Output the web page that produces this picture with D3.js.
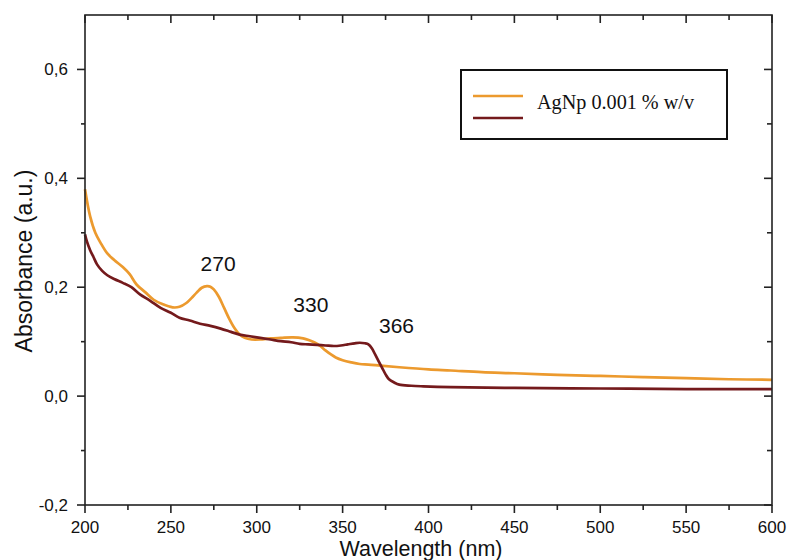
<!DOCTYPE html>
<html><head><meta charset="utf-8">
<script src="https://cdn.jsdelivr.net/npm/d3@7"></script>
<style>body{margin:0;background:#fff}svg{display:block}</style>
</head><body>
<script>
const orangeWl = [200,203,206,209,213,217,222,226,230,235,240,245,251,255,259,262,265,268,271,273,275,278,281,284,287,290,293,297,302,308,314,321,327,331,334,337,340,343,346,350,355,360,365,372,383,400,413,431,450,475,500,525,550,575,600];
const orangeAbs = [0.380,0.330,0.300,0.282,0.262,0.250,0.237,0.224,0.205,0.191,0.177,0.169,0.163,0.164,0.171,0.180,0.190,0.199,0.202,0.201,0.196,0.182,0.162,0.142,0.125,0.113,0.107,0.104,0.104,0.106,0.107,0.108,0.106,0.102,0.098,0.092,0.084,0.077,0.071,0.066,0.062,0.059,0.058,0.056,0.053,0.049,0.047,0.044,0.042,0.039,0.037,0.035,0.033,0.031,0.030];
const redWl = [200,201,203,205,207,210,213,217,222,227,232,238,244,250,255,261,267,273,279,285,290,296,302,308,314,320,325,330,335,340,345,349,353,357,360,363,365,367,369,371,373,375,377,380,383,390,397,413,450,500,550,600];
const redAbs = [0.297,0.285,0.268,0.255,0.242,0.230,0.222,0.215,0.208,0.200,0.187,0.175,0.162,0.153,0.144,0.139,0.133,0.129,0.124,0.118,0.113,0.110,0.107,0.104,0.101,0.099,0.096,0.095,0.094,0.093,0.092,0.093,0.095,0.097,0.098,0.097,0.095,0.088,0.076,0.064,0.052,0.040,0.031,0.025,0.021,0.019,0.018,0.0165,0.015,0.014,0.013,0.013];
const xTicks = [200,250,300,350,400,450,500,550,600];
const yTicks = [-0.2,0,0.2,0.4,0.6];
const yTickLabels = ["-0,2","0,0","0,2","0,4","0,6"];
const legendLabel = "AgNp 0.001 % w/v";
const peakLabels = [{t:"270",x:277.5,y:0.229},{t:"330",x:331.5,y:0.154},{t:"366",x:381.4,y:0.116}];

const W=789,H=560, L=85,R=772,T=15,B=505;
const svg=d3.select("body").append("svg").attr("width",W).attr("height",H);
const x=d3.scaleLinear().domain([200,600]).range([L,R]);
const y=d3.scaleLinear().domain([-0.2,0.7]).range([B,T]);
const font="'Liberation Sans', Arial, sans-serif";

const g=svg.append("g");
const line=(wl,ab)=>d3.line().x((d,i)=>x(wl[i])).y((d,i)=>y(ab[i])).curve(d3.curveCatmullRom.alpha(0.5))(ab);
g.append("path").attr("d",line(orangeWl,orangeAbs)).attr("fill","none").attr("stroke","#EC9A2E").attr("stroke-width",2.7);
g.append("path").attr("d",line(redWl,redAbs)).attr("fill","none").attr("stroke","#741A1C").attr("stroke-width",2.7);

// axes
const minorX=d3.range(225,600,50), minorY=[-0.1,0.1,0.3,0.5];
const ax=svg.append("g").attr("stroke","#222").attr("stroke-width",1.6);
ax.append("rect").attr("x",L).attr("y",T).attr("width",R-L).attr("height",B-T).attr("fill","none");
xTicks.forEach(v=>{ax.append("line").attr("x1",x(v)).attr("x2",x(v)).attr("y1",B).attr("y2",B+8);
  ax.append("line").attr("x1",x(v)).attr("x2",x(v)).attr("y1",T).attr("y2",T+8);});
minorX.forEach(v=>{ax.append("line").attr("x1",x(v)).attr("x2",x(v)).attr("y1",B).attr("y2",B+5);
  ax.append("line").attr("x1",x(v)).attr("x2",x(v)).attr("y1",T).attr("y2",T+5);});
yTicks.forEach(v=>{ax.append("line").attr("x1",L-8).attr("x2",L).attr("y1",y(v)).attr("y2",y(v));
  ax.append("line").attr("x1",R-8).attr("x2",R).attr("y1",y(v)).attr("y2",y(v));});
minorY.forEach(v=>{ax.append("line").attr("x1",L-4).attr("x2",L).attr("y1",y(v)).attr("y2",y(v));
  ax.append("line").attr("x1",R-5).attr("x2",R).attr("y1",y(v)).attr("y2",y(v));});

svg.append("g").selectAll("text").data(xTicks).join("text")
  .attr("x",d=>x(d)).attr("y",533).attr("text-anchor","middle")
  .attr("font-family",font).attr("font-size",17).attr("fill","#111").text(d=>d);
svg.append("g").selectAll("text").data(yTicks).join("text")
  .attr("x",L-17).attr("y",d=>y(d)+6).attr("text-anchor","end")
  .attr("font-family",font).attr("font-size",17).attr("fill","#111").text((d,i)=>yTickLabels[i]);

svg.append("text").attr("x",421).attr("y",556).attr("text-anchor","middle")
  .attr("font-family",font).attr("font-size",21.5).attr("fill","#111").text("Wavelength (nm)");
svg.append("text").attr("transform",`translate(32,261) rotate(-90)`).attr("text-anchor","middle")
  .attr("font-family",font).attr("font-size",23).attr("fill","#111").text("Absorbance (a.u.)");

svg.append("g").selectAll("text").data(peakLabels).join("text")
  .attr("x",d=>x(d.x)).attr("y",d=>y(d.y)).attr("text-anchor","middle")
  .attr("font-family",font).attr("font-size",21).attr("fill","#111").text(d=>d.t);

// legend
const lg=svg.append("g");
lg.append("rect").attr("x",461).attr("y",70).attr("width",266).attr("height",69).attr("fill","#fff").attr("stroke","#111").attr("stroke-width",2);
lg.append("line").attr("x1",473).attr("x2",523).attr("y1",96).attr("y2",96).attr("stroke","#EC9A2E").attr("stroke-width",2.7);
lg.append("line").attr("x1",473).attr("x2",523).attr("y1",118).attr("y2",118).attr("stroke","#741A1C").attr("stroke-width",2.7);
lg.append("text").attr("x",537).attr("y",109).attr("font-family","'Liberation Serif','Times New Roman',serif").attr("font-size",20.2).attr("fill","#111").text(legendLabel);
</script>
</body></html>
